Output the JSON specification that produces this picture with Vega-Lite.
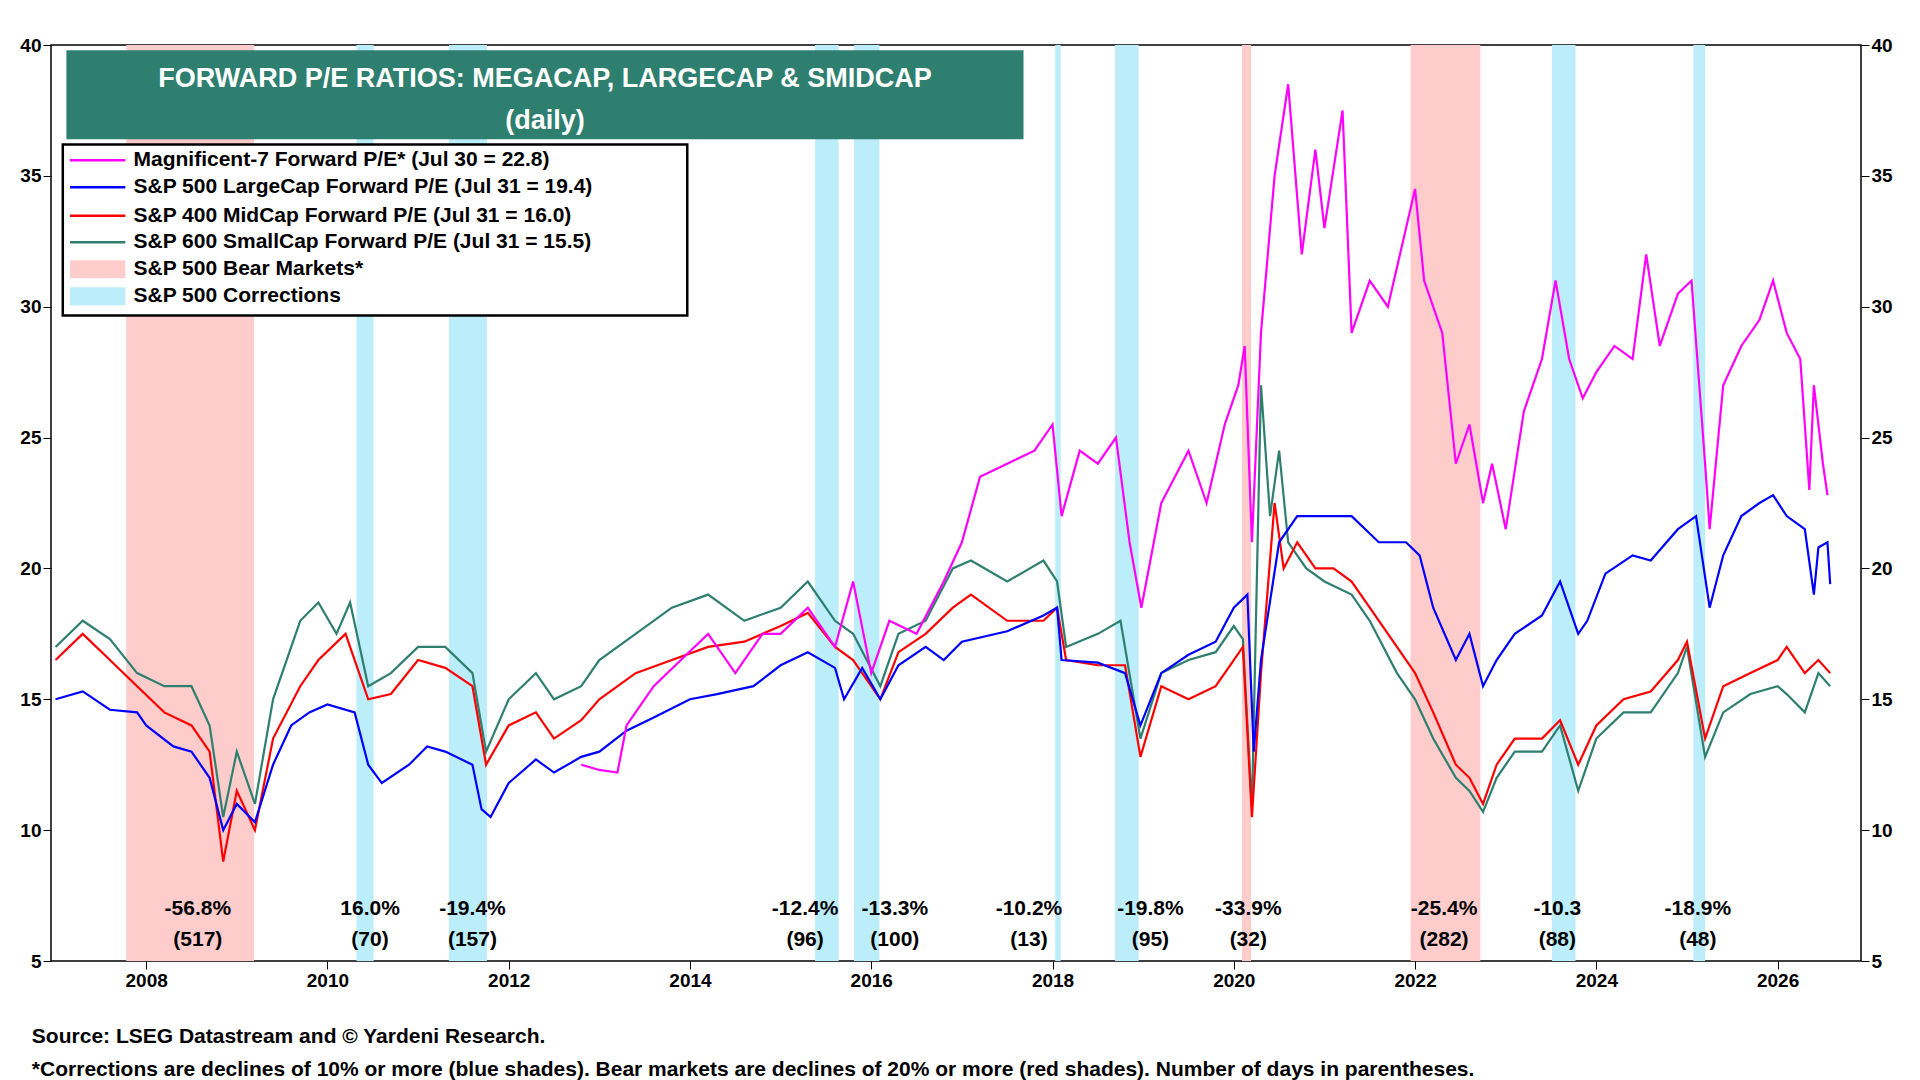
{
  "$schema": "https://vega.github.io/schema/vega-lite/v6.json",
  "width": 1810,
  "height": 916,
  "autosize": "none",
  "padding": {"left": 51, "top": 45, "right": 59, "bottom": 119},
  "background": "white",
  "config": {"font": "Liberation Sans", "view": {"stroke": "black", "strokeWidth": 1.5}},
  "title": {
    "text": ["Source: LSEG Datastream and © Yardeni Research.", "*Corrections are declines of 10% or more (blue shades). Bear markets are declines of 20% or more (red shades). Number of days in parentheses."],
    "orient": "bottom", "anchor": "start", "dx": 12, "offset": 36, "fontSize": 21, "fontWeight": "bold", "lineHeight": 33, "color": "black"
  },
  "datasets": {
    "bands": [
      {"kind": "bear", "a": 2007.78, "b": 2009.19, "p": "-56.8%", "d": "(517)", "c": 2008.57},
      {"kind": "corr", "a": 2010.32, "b": 2010.51, "p": "16.0%", "d": "(70)", "c": 2010.47},
      {"kind": "corr", "a": 2011.34, "b": 2011.76, "p": "-19.4%", "d": "(157)", "c": 2011.6},
      {"kind": "corr", "a": 2015.38, "b": 2015.64, "p": "-12.4%", "d": "(96)", "c": 2015.27},
      {"kind": "corr", "a": 2015.81, "b": 2016.09, "p": "-13.3%", "d": "(100)", "c": 2016.26},
      {"kind": "corr", "a": 2018.03, "b": 2018.09, "p": "-10.2%", "d": "(13)", "c": 2017.74},
      {"kind": "corr", "a": 2018.69, "b": 2018.95, "p": "-19.8%", "d": "(95)", "c": 2019.08},
      {"kind": "bear", "a": 2020.09, "b": 2020.19, "p": "-33.9%", "d": "(32)", "c": 2020.16},
      {"kind": "bear", "a": 2021.95, "b": 2022.72, "p": "-25.4%", "d": "(282)", "c": 2022.32},
      {"kind": "corr", "a": 2023.51, "b": 2023.77, "p": "-10.3", "d": "(88)", "c": 2023.57},
      {"kind": "corr", "a": 2025.07, "b": 2025.2, "p": "-18.9%", "d": "(48)", "c": 2025.12}
    ],
    "series": [
      {"s": "sc", "x": 2007.0, "y": 17.0}, {"s": "sc", "x": 2007.3, "y": 18.0}, {"s": "sc", "x": 2007.6, "y": 17.3}, {"s": "sc", "x": 2007.9, "y": 16.0}, {"s": "sc", "x": 2008.2, "y": 15.5}, {"s": "sc", "x": 2008.5, "y": 15.5}, {"s": "sc", "x": 2008.7, "y": 14.0}, {"s": "sc", "x": 2008.85, "y": 10.5}, {"s": "sc", "x": 2009.0, "y": 13.0}, {"s": "sc", "x": 2009.2, "y": 11.0}, {"s": "sc", "x": 2009.4, "y": 15.0}, {"s": "sc", "x": 2009.7, "y": 18.0}, {"s": "sc", "x": 2009.9, "y": 18.7}, {"s": "sc", "x": 2010.1, "y": 17.5}, {"s": "sc", "x": 2010.25, "y": 18.7}, {"s": "sc", "x": 2010.45, "y": 15.5}, {"s": "sc", "x": 2010.7, "y": 16.0}, {"s": "sc", "x": 2011.0, "y": 17.0}, {"s": "sc", "x": 2011.3, "y": 17.0}, {"s": "sc", "x": 2011.6, "y": 16.0}, {"s": "sc", "x": 2011.75, "y": 13.0}, {"s": "sc", "x": 2012.0, "y": 15.0}, {"s": "sc", "x": 2012.3, "y": 16.0}, {"s": "sc", "x": 2012.5, "y": 15.0}, {"s": "sc", "x": 2012.8, "y": 15.5}, {"s": "sc", "x": 2013.0, "y": 16.5}, {"s": "sc", "x": 2013.4, "y": 17.5}, {"s": "sc", "x": 2013.8, "y": 18.5}, {"s": "sc", "x": 2014.2, "y": 19.0}, {"s": "sc", "x": 2014.6, "y": 18.0}, {"s": "sc", "x": 2015.0, "y": 18.5}, {"s": "sc", "x": 2015.3, "y": 19.5}, {"s": "sc", "x": 2015.6, "y": 18.0}, {"s": "sc", "x": 2015.8, "y": 17.5}, {"s": "sc", "x": 2016.1, "y": 15.5}, {"s": "sc", "x": 2016.3, "y": 17.5}, {"s": "sc", "x": 2016.6, "y": 18.0}, {"s": "sc", "x": 2016.9, "y": 20.0}, {"s": "sc", "x": 2017.1, "y": 20.3}, {"s": "sc", "x": 2017.5, "y": 19.5}, {"s": "sc", "x": 2017.9, "y": 20.3}, {"s": "sc", "x": 2018.05, "y": 19.5}, {"s": "sc", "x": 2018.15, "y": 17.0}, {"s": "sc", "x": 2018.5, "y": 17.5}, {"s": "sc", "x": 2018.75, "y": 18.0}, {"s": "sc", "x": 2018.97, "y": 13.5}, {"s": "sc", "x": 2019.2, "y": 16.0}, {"s": "sc", "x": 2019.5, "y": 16.5}, {"s": "sc", "x": 2019.8, "y": 16.8}, {"s": "sc", "x": 2020.0, "y": 17.8}, {"s": "sc", "x": 2020.1, "y": 17.3}, {"s": "sc", "x": 2020.2, "y": 10.8}, {"s": "sc", "x": 2020.3, "y": 27.0}, {"s": "sc", "x": 2020.4, "y": 22.0}, {"s": "sc", "x": 2020.5, "y": 24.5}, {"s": "sc", "x": 2020.6, "y": 21.0}, {"s": "sc", "x": 2020.8, "y": 20.0}, {"s": "sc", "x": 2021.0, "y": 19.5}, {"s": "sc", "x": 2021.3, "y": 19.0}, {"s": "sc", "x": 2021.5, "y": 18.0}, {"s": "sc", "x": 2021.8, "y": 16.0}, {"s": "sc", "x": 2022.0, "y": 15.0}, {"s": "sc", "x": 2022.2, "y": 13.5}, {"s": "sc", "x": 2022.45, "y": 12.0}, {"s": "sc", "x": 2022.6, "y": 11.5}, {"s": "sc", "x": 2022.75, "y": 10.7}, {"s": "sc", "x": 2022.9, "y": 12.0}, {"s": "sc", "x": 2023.1, "y": 13.0}, {"s": "sc", "x": 2023.4, "y": 13.0}, {"s": "sc", "x": 2023.6, "y": 14.0}, {"s": "sc", "x": 2023.8, "y": 11.5}, {"s": "sc", "x": 2024.0, "y": 13.5}, {"s": "sc", "x": 2024.3, "y": 14.5}, {"s": "sc", "x": 2024.6, "y": 14.5}, {"s": "sc", "x": 2024.9, "y": 16.0}, {"s": "sc", "x": 2025.0, "y": 17.0}, {"s": "sc", "x": 2025.2, "y": 12.8}, {"s": "sc", "x": 2025.4, "y": 14.5}, {"s": "sc", "x": 2025.7, "y": 15.2}, {"s": "sc", "x": 2026.0, "y": 15.5}, {"s": "sc", "x": 2026.1, "y": 15.2}, {"s": "sc", "x": 2026.3, "y": 14.5}, {"s": "sc", "x": 2026.45, "y": 16.0}, {"s": "sc", "x": 2026.58, "y": 15.5},
      {"s": "mc", "x": 2007.0, "y": 16.5}, {"s": "mc", "x": 2007.3, "y": 17.5}, {"s": "mc", "x": 2007.6, "y": 16.5}, {"s": "mc", "x": 2007.9, "y": 15.5}, {"s": "mc", "x": 2008.2, "y": 14.5}, {"s": "mc", "x": 2008.5, "y": 14.0}, {"s": "mc", "x": 2008.7, "y": 13.0}, {"s": "mc", "x": 2008.85, "y": 8.8}, {"s": "mc", "x": 2009.0, "y": 11.5}, {"s": "mc", "x": 2009.2, "y": 10.0}, {"s": "mc", "x": 2009.4, "y": 13.5}, {"s": "mc", "x": 2009.7, "y": 15.5}, {"s": "mc", "x": 2009.9, "y": 16.5}, {"s": "mc", "x": 2010.2, "y": 17.5}, {"s": "mc", "x": 2010.45, "y": 15.0}, {"s": "mc", "x": 2010.7, "y": 15.2}, {"s": "mc", "x": 2011.0, "y": 16.5}, {"s": "mc", "x": 2011.3, "y": 16.2}, {"s": "mc", "x": 2011.6, "y": 15.5}, {"s": "mc", "x": 2011.75, "y": 12.5}, {"s": "mc", "x": 2012.0, "y": 14.0}, {"s": "mc", "x": 2012.3, "y": 14.5}, {"s": "mc", "x": 2012.5, "y": 13.5}, {"s": "mc", "x": 2012.8, "y": 14.2}, {"s": "mc", "x": 2013.0, "y": 15.0}, {"s": "mc", "x": 2013.4, "y": 16.0}, {"s": "mc", "x": 2013.8, "y": 16.5}, {"s": "mc", "x": 2014.2, "y": 17.0}, {"s": "mc", "x": 2014.6, "y": 17.2}, {"s": "mc", "x": 2015.0, "y": 17.8}, {"s": "mc", "x": 2015.3, "y": 18.3}, {"s": "mc", "x": 2015.6, "y": 17.0}, {"s": "mc", "x": 2015.8, "y": 16.5}, {"s": "mc", "x": 2016.1, "y": 15.0}, {"s": "mc", "x": 2016.3, "y": 16.8}, {"s": "mc", "x": 2016.6, "y": 17.5}, {"s": "mc", "x": 2016.9, "y": 18.5}, {"s": "mc", "x": 2017.1, "y": 19.0}, {"s": "mc", "x": 2017.5, "y": 18.0}, {"s": "mc", "x": 2017.9, "y": 18.0}, {"s": "mc", "x": 2018.05, "y": 18.5}, {"s": "mc", "x": 2018.15, "y": 16.5}, {"s": "mc", "x": 2018.5, "y": 16.3}, {"s": "mc", "x": 2018.8, "y": 16.3}, {"s": "mc", "x": 2018.97, "y": 12.8}, {"s": "mc", "x": 2019.2, "y": 15.5}, {"s": "mc", "x": 2019.5, "y": 15.0}, {"s": "mc", "x": 2019.8, "y": 15.5}, {"s": "mc", "x": 2020.0, "y": 16.5}, {"s": "mc", "x": 2020.1, "y": 17.0}, {"s": "mc", "x": 2020.2, "y": 10.5}, {"s": "mc", "x": 2020.3, "y": 16.0}, {"s": "mc", "x": 2020.45, "y": 22.5}, {"s": "mc", "x": 2020.55, "y": 20.0}, {"s": "mc", "x": 2020.7, "y": 21.0}, {"s": "mc", "x": 2020.9, "y": 20.0}, {"s": "mc", "x": 2021.1, "y": 20.0}, {"s": "mc", "x": 2021.3, "y": 19.5}, {"s": "mc", "x": 2021.5, "y": 18.5}, {"s": "mc", "x": 2021.8, "y": 17.0}, {"s": "mc", "x": 2022.0, "y": 16.0}, {"s": "mc", "x": 2022.2, "y": 14.5}, {"s": "mc", "x": 2022.45, "y": 12.5}, {"s": "mc", "x": 2022.6, "y": 12.0}, {"s": "mc", "x": 2022.75, "y": 11.0}, {"s": "mc", "x": 2022.9, "y": 12.5}, {"s": "mc", "x": 2023.1, "y": 13.5}, {"s": "mc", "x": 2023.4, "y": 13.5}, {"s": "mc", "x": 2023.6, "y": 14.2}, {"s": "mc", "x": 2023.8, "y": 12.5}, {"s": "mc", "x": 2024.0, "y": 14.0}, {"s": "mc", "x": 2024.3, "y": 15.0}, {"s": "mc", "x": 2024.6, "y": 15.3}, {"s": "mc", "x": 2024.9, "y": 16.5}, {"s": "mc", "x": 2025.0, "y": 17.2}, {"s": "mc", "x": 2025.2, "y": 13.5}, {"s": "mc", "x": 2025.4, "y": 15.5}, {"s": "mc", "x": 2025.7, "y": 16.0}, {"s": "mc", "x": 2026.0, "y": 16.5}, {"s": "mc", "x": 2026.1, "y": 17.0}, {"s": "mc", "x": 2026.3, "y": 16.0}, {"s": "mc", "x": 2026.45, "y": 16.5}, {"s": "mc", "x": 2026.58, "y": 16.0},
      {"s": "lc", "x": 2007.0, "y": 15.0}, {"s": "lc", "x": 2007.3, "y": 15.3}, {"s": "lc", "x": 2007.6, "y": 14.6}, {"s": "lc", "x": 2007.9, "y": 14.5}, {"s": "lc", "x": 2008.0, "y": 14.0}, {"s": "lc", "x": 2008.3, "y": 13.2}, {"s": "lc", "x": 2008.5, "y": 13.0}, {"s": "lc", "x": 2008.7, "y": 12.0}, {"s": "lc", "x": 2008.85, "y": 10.0}, {"s": "lc", "x": 2009.0, "y": 11.0}, {"s": "lc", "x": 2009.2, "y": 10.3}, {"s": "lc", "x": 2009.4, "y": 12.5}, {"s": "lc", "x": 2009.6, "y": 14.0}, {"s": "lc", "x": 2009.8, "y": 14.5}, {"s": "lc", "x": 2010.0, "y": 14.8}, {"s": "lc", "x": 2010.3, "y": 14.5}, {"s": "lc", "x": 2010.45, "y": 12.5}, {"s": "lc", "x": 2010.6, "y": 11.8}, {"s": "lc", "x": 2010.9, "y": 12.5}, {"s": "lc", "x": 2011.1, "y": 13.2}, {"s": "lc", "x": 2011.3, "y": 13.0}, {"s": "lc", "x": 2011.6, "y": 12.5}, {"s": "lc", "x": 2011.7, "y": 10.8}, {"s": "lc", "x": 2011.8, "y": 10.5}, {"s": "lc", "x": 2012.0, "y": 11.8}, {"s": "lc", "x": 2012.3, "y": 12.7}, {"s": "lc", "x": 2012.5, "y": 12.2}, {"s": "lc", "x": 2012.8, "y": 12.8}, {"s": "lc", "x": 2013.0, "y": 13.0}, {"s": "lc", "x": 2013.3, "y": 13.8}, {"s": "lc", "x": 2013.6, "y": 14.3}, {"s": "lc", "x": 2014.0, "y": 15.0}, {"s": "lc", "x": 2014.3, "y": 15.2}, {"s": "lc", "x": 2014.7, "y": 15.5}, {"s": "lc", "x": 2015.0, "y": 16.3}, {"s": "lc", "x": 2015.3, "y": 16.8}, {"s": "lc", "x": 2015.6, "y": 16.2}, {"s": "lc", "x": 2015.7, "y": 15.0}, {"s": "lc", "x": 2015.9, "y": 16.2}, {"s": "lc", "x": 2016.1, "y": 15.0}, {"s": "lc", "x": 2016.3, "y": 16.3}, {"s": "lc", "x": 2016.6, "y": 17.0}, {"s": "lc", "x": 2016.8, "y": 16.5}, {"s": "lc", "x": 2017.0, "y": 17.2}, {"s": "lc", "x": 2017.5, "y": 17.6}, {"s": "lc", "x": 2017.9, "y": 18.2}, {"s": "lc", "x": 2018.05, "y": 18.5}, {"s": "lc", "x": 2018.1, "y": 16.5}, {"s": "lc", "x": 2018.5, "y": 16.4}, {"s": "lc", "x": 2018.8, "y": 16.0}, {"s": "lc", "x": 2018.97, "y": 14.0}, {"s": "lc", "x": 2019.2, "y": 16.0}, {"s": "lc", "x": 2019.5, "y": 16.7}, {"s": "lc", "x": 2019.8, "y": 17.2}, {"s": "lc", "x": 2020.0, "y": 18.5}, {"s": "lc", "x": 2020.15, "y": 19.0}, {"s": "lc", "x": 2020.22, "y": 13.0}, {"s": "lc", "x": 2020.3, "y": 16.5}, {"s": "lc", "x": 2020.5, "y": 21.0}, {"s": "lc", "x": 2020.7, "y": 22.0}, {"s": "lc", "x": 2021.0, "y": 22.0}, {"s": "lc", "x": 2021.3, "y": 22.0}, {"s": "lc", "x": 2021.6, "y": 21.0}, {"s": "lc", "x": 2021.9, "y": 21.0}, {"s": "lc", "x": 2022.05, "y": 20.5}, {"s": "lc", "x": 2022.2, "y": 18.5}, {"s": "lc", "x": 2022.45, "y": 16.5}, {"s": "lc", "x": 2022.6, "y": 17.5}, {"s": "lc", "x": 2022.75, "y": 15.5}, {"s": "lc", "x": 2022.9, "y": 16.5}, {"s": "lc", "x": 2023.1, "y": 17.5}, {"s": "lc", "x": 2023.4, "y": 18.2}, {"s": "lc", "x": 2023.6, "y": 19.5}, {"s": "lc", "x": 2023.8, "y": 17.5}, {"s": "lc", "x": 2023.9, "y": 18.0}, {"s": "lc", "x": 2024.1, "y": 19.8}, {"s": "lc", "x": 2024.4, "y": 20.5}, {"s": "lc", "x": 2024.6, "y": 20.3}, {"s": "lc", "x": 2024.9, "y": 21.5}, {"s": "lc", "x": 2025.1, "y": 22.0}, {"s": "lc", "x": 2025.25, "y": 18.5}, {"s": "lc", "x": 2025.4, "y": 20.5}, {"s": "lc", "x": 2025.6, "y": 22.0}, {"s": "lc", "x": 2025.8, "y": 22.5}, {"s": "lc", "x": 2025.95, "y": 22.8}, {"s": "lc", "x": 2026.1, "y": 22.0}, {"s": "lc", "x": 2026.3, "y": 21.5}, {"s": "lc", "x": 2026.4, "y": 19.0}, {"s": "lc", "x": 2026.45, "y": 20.8}, {"s": "lc", "x": 2026.55, "y": 21.0}, {"s": "lc", "x": 2026.58, "y": 19.4},
      {"s": "m7", "x": 2012.8, "y": 12.5}, {"s": "m7", "x": 2013.0, "y": 12.3}, {"s": "m7", "x": 2013.2, "y": 12.2}, {"s": "m7", "x": 2013.3, "y": 14.0}, {"s": "m7", "x": 2013.6, "y": 15.5}, {"s": "m7", "x": 2013.9, "y": 16.5}, {"s": "m7", "x": 2014.2, "y": 17.5}, {"s": "m7", "x": 2014.5, "y": 16.0}, {"s": "m7", "x": 2014.8, "y": 17.5}, {"s": "m7", "x": 2015.0, "y": 17.5}, {"s": "m7", "x": 2015.3, "y": 18.5}, {"s": "m7", "x": 2015.6, "y": 17.0}, {"s": "m7", "x": 2015.8, "y": 19.5}, {"s": "m7", "x": 2016.0, "y": 16.0}, {"s": "m7", "x": 2016.2, "y": 18.0}, {"s": "m7", "x": 2016.5, "y": 17.5}, {"s": "m7", "x": 2016.8, "y": 19.5}, {"s": "m7", "x": 2017.0, "y": 21.0}, {"s": "m7", "x": 2017.2, "y": 23.5}, {"s": "m7", "x": 2017.5, "y": 24.0}, {"s": "m7", "x": 2017.8, "y": 24.5}, {"s": "m7", "x": 2018.0, "y": 25.5}, {"s": "m7", "x": 2018.1, "y": 22.0}, {"s": "m7", "x": 2018.3, "y": 24.5}, {"s": "m7", "x": 2018.5, "y": 24.0}, {"s": "m7", "x": 2018.7, "y": 25.0}, {"s": "m7", "x": 2018.85, "y": 21.0}, {"s": "m7", "x": 2018.98, "y": 18.5}, {"s": "m7", "x": 2019.2, "y": 22.5}, {"s": "m7", "x": 2019.5, "y": 24.5}, {"s": "m7", "x": 2019.7, "y": 22.5}, {"s": "m7", "x": 2019.9, "y": 25.5}, {"s": "m7", "x": 2020.05, "y": 27.0}, {"s": "m7", "x": 2020.12, "y": 28.5}, {"s": "m7", "x": 2020.2, "y": 21.0}, {"s": "m7", "x": 2020.3, "y": 29.0}, {"s": "m7", "x": 2020.45, "y": 35.0}, {"s": "m7", "x": 2020.6, "y": 38.5}, {"s": "m7", "x": 2020.75, "y": 32.0}, {"s": "m7", "x": 2020.9, "y": 36.0}, {"s": "m7", "x": 2021.0, "y": 33.0}, {"s": "m7", "x": 2021.2, "y": 37.5}, {"s": "m7", "x": 2021.3, "y": 29.0}, {"s": "m7", "x": 2021.5, "y": 31.0}, {"s": "m7", "x": 2021.7, "y": 30.0}, {"s": "m7", "x": 2021.9, "y": 33.0}, {"s": "m7", "x": 2022.0, "y": 34.5}, {"s": "m7", "x": 2022.1, "y": 31.0}, {"s": "m7", "x": 2022.3, "y": 29.0}, {"s": "m7", "x": 2022.45, "y": 24.0}, {"s": "m7", "x": 2022.6, "y": 25.5}, {"s": "m7", "x": 2022.75, "y": 22.5}, {"s": "m7", "x": 2022.85, "y": 24.0}, {"s": "m7", "x": 2023.0, "y": 21.5}, {"s": "m7", "x": 2023.2, "y": 26.0}, {"s": "m7", "x": 2023.4, "y": 28.0}, {"s": "m7", "x": 2023.55, "y": 31.0}, {"s": "m7", "x": 2023.7, "y": 28.0}, {"s": "m7", "x": 2023.85, "y": 26.5}, {"s": "m7", "x": 2024.0, "y": 27.5}, {"s": "m7", "x": 2024.2, "y": 28.5}, {"s": "m7", "x": 2024.4, "y": 28.0}, {"s": "m7", "x": 2024.55, "y": 32.0}, {"s": "m7", "x": 2024.7, "y": 28.5}, {"s": "m7", "x": 2024.9, "y": 30.5}, {"s": "m7", "x": 2025.05, "y": 31.0}, {"s": "m7", "x": 2025.2, "y": 24.0}, {"s": "m7", "x": 2025.25, "y": 21.5}, {"s": "m7", "x": 2025.4, "y": 27.0}, {"s": "m7", "x": 2025.6, "y": 28.5}, {"s": "m7", "x": 2025.8, "y": 29.5}, {"s": "m7", "x": 2025.95, "y": 31.0}, {"s": "m7", "x": 2026.1, "y": 29.0}, {"s": "m7", "x": 2026.25, "y": 28.0}, {"s": "m7", "x": 2026.35, "y": 23.0}, {"s": "m7", "x": 2026.4, "y": 27.0}, {"s": "m7", "x": 2026.5, "y": 24.0}, {"s": "m7", "x": 2026.55, "y": 22.8}
    ],
    "legend": [
      {"s": "m7", "t": "Magnificent-7 Forward P/E* (Jul 30 = 22.8)", "y": 35.6, "shape": "line"},
      {"s": "lc", "t": "S&P 500 LargeCap Forward P/E (Jul 31 = 19.4)", "y": 34.56, "shape": "line"},
      {"s": "mc", "t": "S&P 400 MidCap Forward P/E (Jul 31 = 16.0)", "y": 33.48, "shape": "line"},
      {"s": "sc", "t": "S&P 600 SmallCap Forward P/E (Jul 31 = 15.5)", "y": 32.46, "shape": "line"},
      {"s": "bear", "t": "S&P 500 Bear Markets*", "y": 31.43, "shape": "box"},
      {"s": "corr", "t": "S&P 500 Corrections", "y": 30.4, "shape": "box"}
    ]
  },
  "layer": [
    {
      "data": {"name": "bands"},
      "mark": {"type": "rect"},
      "encoding": {
        "x": {"field": "a", "type": "quantitative", "scale": {"domain": [2006.95, 2026.92], "nice": false, "zero": false}, "axis": {"values": [2008, 2010, 2012, 2014, 2016, 2018, 2020, 2022, 2024, 2026], "format": "d", "title": null, "grid": false, "labelFontSize": 19, "labelColor": "black", "labelFontWeight": "bold", "tickColor": "black", "domain": false, "tickSize": 8}},
        "x2": {"field": "b"},
        "color": {"field": "kind", "type": "nominal", "scale": {"domain": ["m7", "lc", "mc", "sc", "bear", "corr"], "range": ["#FF00FF", "#0000FF", "#FF0000", "#2F7F6F", "#FFCCCC", "#BBEEFA"]}, "legend": null}
      }
    },
    {
      "data": {"name": "bands"},
      "mark": {"type": "text", "fontSize": 21, "fontWeight": "bold", "color": "black"},
      "encoding": {"x": {"field": "c", "type": "quantitative"}, "y": {"datum": 7.0, "type": "quantitative", "scale": {"domain": [5, 40], "nice": false, "zero": false}, "axis": null}, "text": {"field": "p"}}
    },
    {
      "data": {"name": "bands"},
      "mark": {"type": "text", "fontSize": 21, "fontWeight": "bold", "color": "black"},
      "encoding": {"x": {"field": "c", "type": "quantitative"}, "y": {"datum": 5.8, "type": "quantitative", "axis": null}, "text": {"field": "d"}}
    },
    {
      "data": {"name": "series"},
      "mark": {"type": "line", "strokeWidth": 2.2},
      "encoding": {
        "x": {"field": "x", "type": "quantitative"},
        "y": {"field": "y", "type": "quantitative", "scale": {"domain": [5, 40], "nice": false, "zero": false}, "axis": {"values": [5, 10, 15, 20, 25, 30, 35, 40], "title": null, "grid": false, "labelFontSize": 19, "labelFontWeight": "bold", "labelColor": "black", "tickColor": "black", "domain": false, "tickSize": 8}},
        "color": {"field": "s", "type": "nominal", "legend": null},
        "order": {"field": "x"}
      }
    },
    {
      "data": {"values": [{"v": 5}]},
      "mark": {"type": "rule", "opacity": 0},
      "encoding": {
        "y": {"field": "v", "type": "quantitative", "axis": {"orient": "right", "values": [5, 10, 15, 20, 25, 30, 35, 40], "title": null, "grid": false, "labelFontSize": 19, "labelFontWeight": "bold", "labelColor": "black", "tickColor": "black", "domain": false, "tickSize": 8}}
      }
    },
    {
      "data": {"values": [{"a": 2007.12, "b": 2017.68, "y1": 36.4, "y2": 39.8}]},
      "mark": {"type": "rect", "color": "#2E7F70"},
      "encoding": {"x": {"field": "a", "type": "quantitative"}, "x2": {"field": "b"}, "y": {"field": "y1", "type": "quantitative", "axis": null}, "y2": {"field": "y2"}}
    },
    {
      "data": {"values": [{"x": 2012.4, "y": 38.7, "t": "FORWARD P/E RATIOS: MEGACAP, LARGECAP & SMIDCAP"}, {"x": 2012.4, "y": 37.1, "t": "(daily)"}]},
      "mark": {"type": "text", "color": "white", "fontSize": 27, "fontWeight": "bold"},
      "encoding": {"x": {"field": "x", "type": "quantitative"}, "y": {"field": "y", "type": "quantitative", "axis": null}, "text": {"field": "t"}}
    },
    {
      "data": {"values": [{"a": 2007.08, "b": 2013.97, "y1": 29.66, "y2": 36.2}]},
      "mark": {"type": "rect", "fill": "white", "stroke": "black", "strokeWidth": 2.5},
      "encoding": {"x": {"field": "a", "type": "quantitative"}, "x2": {"field": "b"}, "y": {"field": "y1", "type": "quantitative", "axis": null}, "y2": {"field": "y2"}}
    },
    {
      "data": {"name": "legend"},
      "transform": [{"filter": "datum.shape == 'line'"}],
      "mark": {"type": "rule", "strokeWidth": 2.5},
      "encoding": {"x": {"datum": 2007.16, "type": "quantitative"}, "x2": {"datum": 2007.77}, "y": {"field": "y", "type": "quantitative", "axis": null}, "color": {"field": "s", "type": "nominal", "legend": null}}
    },
    {
      "data": {"name": "legend"},
      "transform": [{"filter": "datum.shape == 'box'"}],
      "mark": {"type": "rect", "height": 18},
      "encoding": {"x": {"datum": 2007.16, "type": "quantitative"}, "x2": {"datum": 2007.77}, "y": {"field": "y", "type": "quantitative", "axis": null}, "color": {"field": "s", "type": "nominal", "legend": null}}
    },
    {
      "data": {"name": "legend"},
      "mark": {"type": "text", "align": "left", "fontSize": 21, "fontWeight": "bold", "color": "black"},
      "encoding": {"x": {"datum": 2007.86, "type": "quantitative"}, "y": {"field": "y", "type": "quantitative", "axis": null}, "text": {"field": "t"}}
    }
  ],
  "resolve": {"axis": {"y": "independent"}}
}
